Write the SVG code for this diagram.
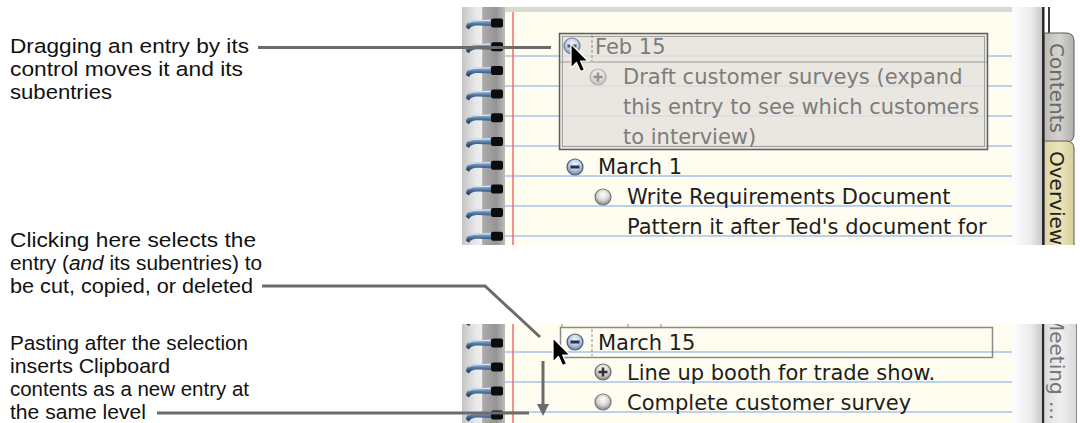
<svg xmlns="http://www.w3.org/2000/svg" width="1080" height="423" viewBox="0 0 1080 423">
  <style>
    .note{font-family:"Liberation Sans",Arial,sans-serif;font-size:20.5px;fill:#111}
    .ui{font-family:"DejaVu Sans","Liberation Sans",sans-serif;font-size:21px;fill:#1e1e1e}
    .ghost{fill:#7c7c7c}
    .tab{font-family:"DejaVu Sans","Liberation Sans",sans-serif;font-size:20px}
    .rule{stroke:#a8c0f2;stroke-width:1.5}
    .margin{stroke:#f26a6a;stroke-width:1.5}
    .lead{fill:none;stroke:#6b6b6b;stroke-width:3}
    .paper{fill:#fffdf0}
  </style>
  <defs>
    <linearGradient id="spine" x1="0" x2="1">
      <stop offset="0" stop-color="#c4c4c4"/>
      <stop offset="0.3" stop-color="#e6e6e6"/>
      <stop offset="0.46" stop-color="#f0f0f0"/>
      <stop offset="0.48" stop-color="#acacac"/>
      <stop offset="0.8" stop-color="#949494"/>
      <stop offset="1" stop-color="#bcbcbc"/>
    </linearGradient>
    <linearGradient id="gutter" x1="0" x2="1">
      <stop offset="0" stop-color="#fdfdfd"/>
      <stop offset="0.6" stop-color="#ececec"/>
      <stop offset="1" stop-color="#c6c6c6"/>
    </linearGradient>
    <linearGradient id="wire" x1="0" y1="0" x2="0" y2="1">
      <stop offset="0" stop-color="#b4cae4"/>
      <stop offset="0.45" stop-color="#4f74a2"/>
      <stop offset="1" stop-color="#1b2f4c"/>
    </linearGradient>
    <radialGradient id="aqua" cx="0.5" cy="0.35" r="0.6">
      <stop offset="0" stop-color="#f4f8ff"/>
      <stop offset="0.6" stop-color="#b7cbe6"/>
      <stop offset="1" stop-color="#6f8fba"/>
    </radialGradient>
    <radialGradient id="pearl" cx="0.5" cy="0.35" r="0.6">
      <stop offset="0" stop-color="#ffffff"/>
      <stop offset="0.6" stop-color="#d6d6d6"/>
      <stop offset="1" stop-color="#8e8e8e"/>
    </radialGradient>
    <linearGradient id="tabGray" x1="0" x2="1">
      <stop offset="0" stop-color="#bdbbb5"/>
      <stop offset="0.5" stop-color="#d6d4ce"/>
      <stop offset="1" stop-color="#b2b0aa"/>
    </linearGradient>
    <linearGradient id="tabGold" x1="0" x2="1">
      <stop offset="0" stop-color="#ddd5a2"/>
      <stop offset="0.5" stop-color="#ece5b8"/>
      <stop offset="1" stop-color="#d6ce9c"/>
    </linearGradient>
    <linearGradient id="tabPale" x1="0" x2="1">
      <stop offset="0" stop-color="#dcdcdc"/>
      <stop offset="0.5" stop-color="#f0f0f0"/>
      <stop offset="1" stop-color="#d8d8d8"/>
    </linearGradient>
    <!-- one coil of the spiral binding, origin at its vertical centre -->
    <g id="ring">
      <path d="M4,4.5 C4,-0.5 9,-3 16,-3 L30,-3.5 L30,3 L16,2.5 C11,2.5 8.5,3.5 7,6.5 Z" fill="url(#wire)"/>
      <path d="M7,0 C9,-1.8 12,-2.2 16,-2.2 L28,-2.6" fill="none" stroke="#e6f0fa" stroke-width="0.9"/>
      <rect x="29" y="-4.5" width="12" height="9" rx="2" fill="#0c0c0c"/>
    </g>
    <g id="minus">
      <circle r="8" fill="url(#aqua)" stroke="#4e5f78" stroke-width="1.2"/>
      <rect x="-4.5" y="-1.5" width="9" height="3" fill="#2a3240"/>
    </g>
    <g id="plus">
      <circle r="8" fill="url(#pearl)" stroke="#6a6a6a" stroke-width="1.2"/>
      <rect x="-4.5" y="-1.3" width="9" height="2.6" fill="#333"/>
      <rect x="-1.3" y="-4.5" width="2.6" height="9" fill="#333"/>
    </g>
    <g id="bullet">
      <circle r="8" fill="url(#pearl)" stroke="#777" stroke-width="1.2"/>
    </g>
    <path id="pointer" d="M0,0 V24 L5.5,18.5 L9.5,27.5 L13.5,25.8 L9.6,17 H17 Z" fill="#000" stroke="#fff" stroke-width="1.2" stroke-linejoin="round"/>
    <marker id="head" markerUnits="userSpaceOnUse" markerWidth="12" markerHeight="12" viewBox="0 0 12 12" refX="2" refY="6" orient="auto">
      <path d="M0,0 L12,6 L0,12 Z" fill="#6b6b6b"/>
    </marker>
    <clipPath id="clipTop"><rect x="462" y="7" width="618" height="238"/></clipPath>
    <clipPath id="clipBottom"><rect x="462" y="324" width="618" height="99"/></clipPath>
  </defs>

  <rect width="1080" height="423" fill="#fff"/>

  <!-- upper notebook view: dragging an entry -->
  <g id="shot-top" clip-path="url(#clipTop)">
    <rect x="462" y="7" width="43" height="238" fill="url(#spine)"/>
    <rect class="paper" x="505" y="12" width="507" height="233"/>
    <rect x="505" y="7" width="507" height="5" fill="#d9d9d1"/>
    <g class="rule">
      <line x1="505" y1="56" x2="1012" y2="56"/>
      <line x1="505" y1="86" x2="1012" y2="86"/>
      <line x1="505" y1="116" x2="1012" y2="116"/>
      <line x1="505" y1="146" x2="1012" y2="146"/>
      <line x1="505" y1="176" x2="1012" y2="176"/>
      <line x1="505" y1="206" x2="1012" y2="206"/>
      <line x1="505" y1="236" x2="1012" y2="236"/>
    </g>
    <line class="margin" x1="513" y1="12" x2="513" y2="245"/>
    <rect x="1012" y="7" width="31" height="238" fill="url(#gutter)"/>
    <rect x="1042" y="7" width="2.5" height="238" fill="#2a2a2a"/>
    <rect x="1048" y="7" width="2" height="27" fill="#3a3a3a"/>
    <path d="M1044.5,33 H1066 Q1074,33 1074,41 V134 Q1074,142 1066,142 H1044.5 Z" fill="url(#tabGray)" stroke="#5a5a5a" stroke-width="1"/>
    <path d="M1044.5,141 H1066 Q1074,141 1074,149 V250 H1044.5 Z" fill="url(#tabGold)" stroke="#5a5a5a" stroke-width="1"/>
    <text class="tab" fill="#6a6a6a" transform="translate(1050,43) rotate(90)">Contents</text>
    <text class="tab" fill="#222" transform="translate(1050,151) rotate(90)">Overview</text>
    <use href="#ring" x="462" y="23"/>
    <use href="#ring" x="462" y="46.7"/>
    <use href="#ring" x="462" y="70.4"/>
    <use href="#ring" x="462" y="94.1"/>
    <use href="#ring" x="462" y="117.8"/>
    <use href="#ring" x="462" y="141.5"/>
    <use href="#ring" x="462" y="165.2"/>
    <use href="#ring" x="462" y="188.9"/>
    <use href="#ring" x="462" y="212.6"/>
    <use href="#ring" x="462" y="236.3"/>

    <!-- translucent drag image of the Feb 15 entry -->
    <g id="drag-image">
      <rect x="559.5" y="33.5" width="428" height="116" fill="#e4e2dc" fill-opacity="0.82" stroke="#5e5e5e" stroke-width="1.5"/>
      <rect x="562.5" y="36.5" width="422" height="110" fill="none" stroke="#a0a0a0" stroke-width="1"/>
      <line x1="560" y1="62" x2="987" y2="62" stroke="#9c9c9c" stroke-width="1.2"/>
      <line x1="592" y1="35" x2="592" y2="61" stroke="#888" stroke-width="1" stroke-dasharray="3 2"/>
      <use href="#minus" x="572" y="46" opacity="0.75"/>
      <use href="#plus" x="598" y="77" opacity="0.45"/>
      <text class="ui ghost" x="595" y="54">Feb 15</text>
      <text class="ui ghost" x="623" y="84">Draft customer surveys (expand</text>
      <text class="ui ghost" x="623" y="114">this entry to see which customers</text>
      <text class="ui ghost" x="623" y="144">to interview)</text>
    </g>
    <g id="entry-march1">
      <use href="#minus" x="575" y="167"/>
      <text class="ui" x="598" y="174">March 1</text>
      <use href="#bullet" x="603" y="197"/>
      <text class="ui" x="627" y="204">Write Requirements Document</text>
      <text class="ui" x="627" y="234">Pattern it after Ted's document for</text>
    </g>
    <use href="#pointer" x="571" y="44"/>
  </g>

  <!-- lower notebook view: selecting and pasting -->
  <g id="shot-bottom" clip-path="url(#clipBottom)">
    <rect x="462" y="324" width="43" height="99" fill="url(#spine)"/>
    <rect class="paper" x="505" y="324" width="507" height="99"/>
    <g class="rule">
      <line x1="505" y1="352" x2="1012" y2="352"/>
      <line x1="505" y1="382" x2="1012" y2="382"/>
      <line x1="505" y1="412" x2="1012" y2="412"/>
    </g>
    <line class="margin" x1="513" y1="324" x2="513" y2="423"/>
    <rect x="1012" y="324" width="31" height="99" fill="url(#gutter)"/>
    <rect x="1042" y="324" width="2.5" height="99" fill="#2a2a2a"/>
    <rect x="1044.5" y="324" width="32" height="99" fill="url(#tabPale)"/>
    <line x1="1076.5" y1="324" x2="1076.5" y2="423" stroke="#8a8a8a" stroke-width="1"/>
    <text class="tab" fill="#777" transform="translate(1050,314) rotate(90)">Meeting ...</text>
    <use href="#ring" x="462" y="319.5"/>
    <use href="#ring" x="462" y="343"/>
    <use href="#ring" x="462" y="367"/>
    <use href="#ring" x="462" y="391"/>
    <use href="#ring" x="462" y="415"/>
    <g stroke="#9a9a9a" stroke-width="1.2">
      <line x1="562" y1="322" x2="562" y2="327"/>
      <line x1="628" y1="322" x2="628" y2="327"/>
      <line x1="661" y1="322" x2="661" y2="327"/>
    </g>
    <g id="entry-march15">
      <rect x="560.5" y="327.5" width="432" height="30" fill="none" stroke="#8a8a8a" stroke-width="1.5"/>
      <line x1="592" y1="329" x2="592" y2="356" stroke="#888" stroke-width="1" stroke-dasharray="3 2"/>
      <use href="#minus" x="575" y="342"/>
      <text class="ui" x="598" y="350">March 15</text>
      <use href="#plus" x="603" y="372"/>
      <text class="ui" x="627" y="380">Line up booth for trade show.</text>
      <use href="#bullet" x="603" y="402"/>
      <text class="ui" x="627" y="410">Complete customer survey</text>
    </g>
    <use href="#pointer" x="553" y="338"/>
  </g>

  <!-- callout texts -->
  <g id="note-drag">
    <text class="note" x="10" y="53" textLength="239" lengthAdjust="spacingAndGlyphs">Dragging an entry by its</text>
    <text class="note" x="10" y="76" textLength="233" lengthAdjust="spacingAndGlyphs">control moves it and its</text>
    <text class="note" x="10" y="99" textLength="102" lengthAdjust="spacingAndGlyphs">subentries</text>
  </g>
  <g id="note-select">
    <text class="note" x="10" y="247" textLength="246" lengthAdjust="spacingAndGlyphs">Clicking here selects the</text>
    <text class="note" x="10" y="270" textLength="252" lengthAdjust="spacingAndGlyphs">entry (<tspan font-style="italic">and</tspan> its subentries) to</text>
    <text class="note" x="10" y="293" textLength="243" lengthAdjust="spacingAndGlyphs">be cut, copied, or deleted</text>
  </g>
  <g id="note-paste">
    <text class="note" x="10" y="349.5" textLength="238" lengthAdjust="spacingAndGlyphs">Pasting after the selection</text>
    <text class="note" x="10" y="372.5" textLength="160" lengthAdjust="spacingAndGlyphs">inserts Clipboard</text>
    <text class="note" x="10" y="395.5" textLength="239" lengthAdjust="spacingAndGlyphs">contents as a new entry at</text>
    <text class="note" x="10" y="418.5" textLength="136" lengthAdjust="spacingAndGlyphs">the same level</text>
  </g>

  <!-- leader lines -->
  <g id="connectors">
    <line class="lead" x1="258" y1="47.5" x2="551" y2="47.5"/>
    <polyline class="lead" stroke-width="2.5" points="262,286 485,286 540,337"/>
    <line class="lead" x1="157" y1="413" x2="529" y2="413"/>
    <line class="lead" stroke-width="2" x1="543" y1="361" x2="543" y2="406" marker-end="url(#head)"/>
  </g>
</svg>
